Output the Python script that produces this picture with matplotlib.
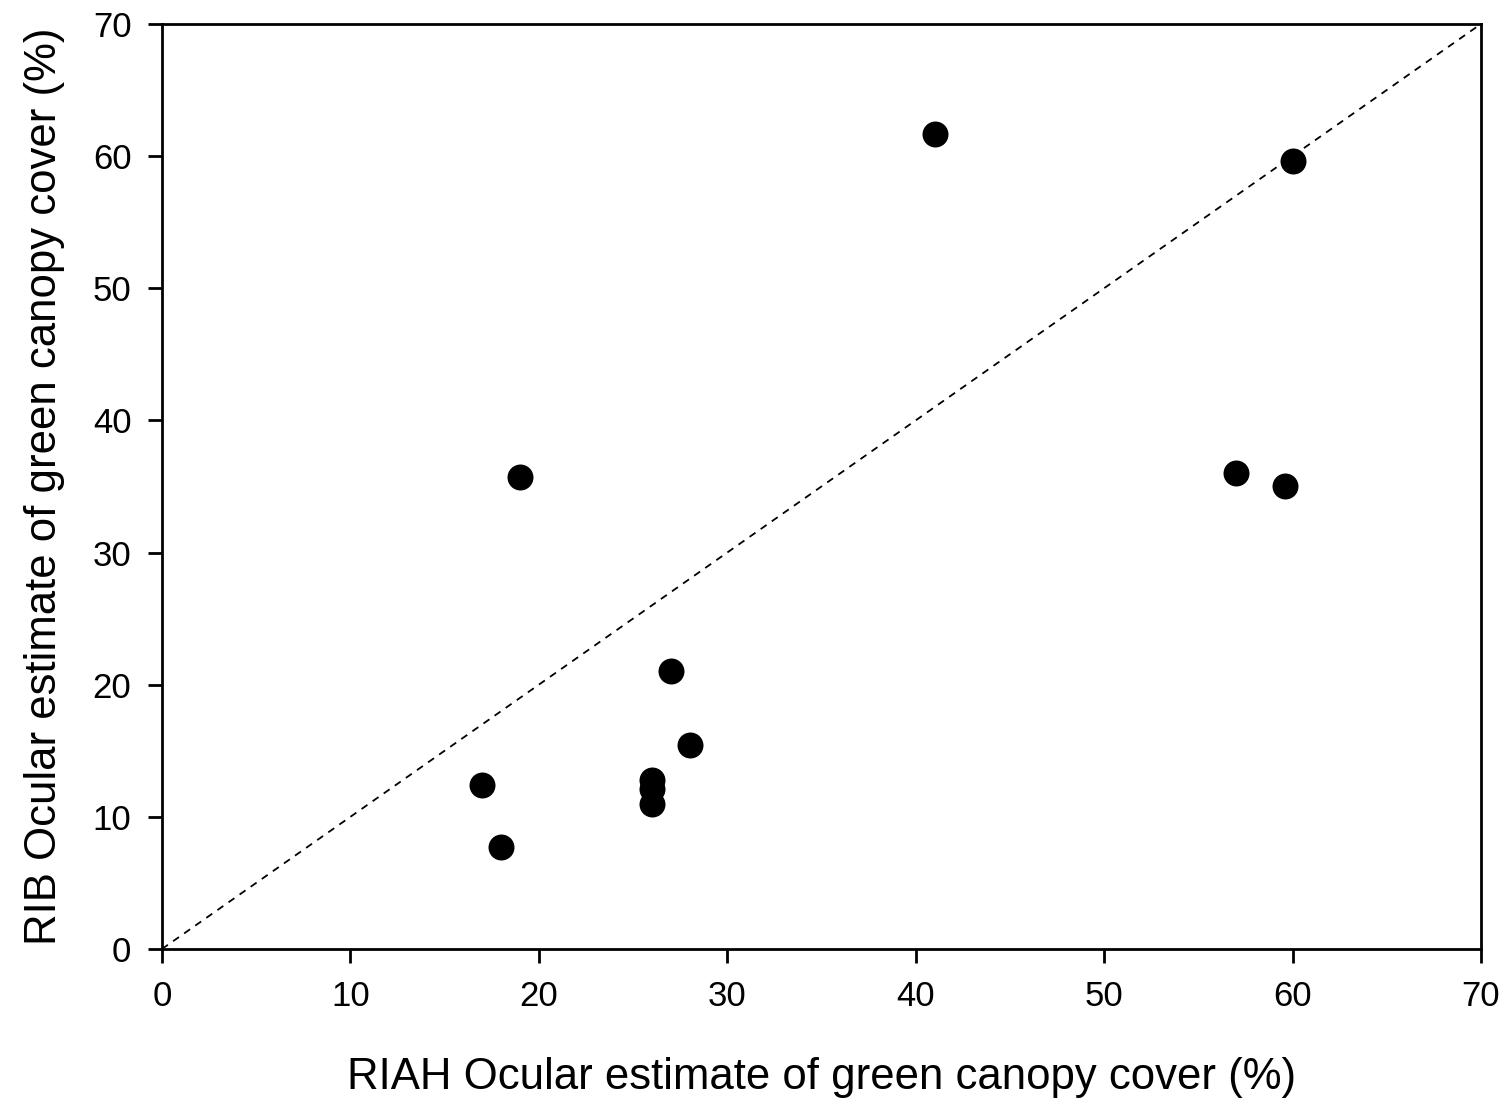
import numpy as np
import matplotlib
matplotlib.use("Agg")
import matplotlib.pyplot as plt

plt.rcParams['font.family'] = ['Liberation Sans', 'DejaVu Sans']

# RIAH vs RIB ocular estimates (%)
riah = [17, 18, 19, 26, 26, 26, 27, 28, 41, 57, 59.6, 60]
rib = [12.4, 7.7, 35.7, 12.8, 12.1, 11.0, 21.0, 15.4, 61.7, 36.0, 35.0, 59.6]
ticks = [0, 10, 20, 30, 40, 50, 60, 70]


def main():
    fig = plt.figure(figsize=(15.11, 11.09), dpi=100)
    ax = fig.add_axes([0.1072, 0.1443, 0.8729, 0.8341])

    # 1:1 line
    ax.plot([0, 70], [0, 70], '--', color='black', lw=1.3, dashes=(4, 3.5))
    ax.scatter(riah, rib, s=350, color='black', zorder=3, linewidths=0)

    ax.set_xlim(0, 70)
    ax.set_ylim(0, 70)
    ax.set_xticks(ticks)
    ax.set_yticks(ticks)
    ax.tick_params(direction='out', length=10, width=2, labelsize=25, pad=12)
    for s in ax.spines.values():
        s.set_linewidth(2)

    ax.set_xlabel('RIAH Ocular estimate of green canopy cover (%)', fontsize=31.5, labelpad=32)
    ax.set_ylabel('RIB Ocular estimate of green canopy cover (%)', fontsize=31.5, labelpad=20)

    fig.savefig('out.png', dpi=100)


if __name__ == "__main__":
    main()
